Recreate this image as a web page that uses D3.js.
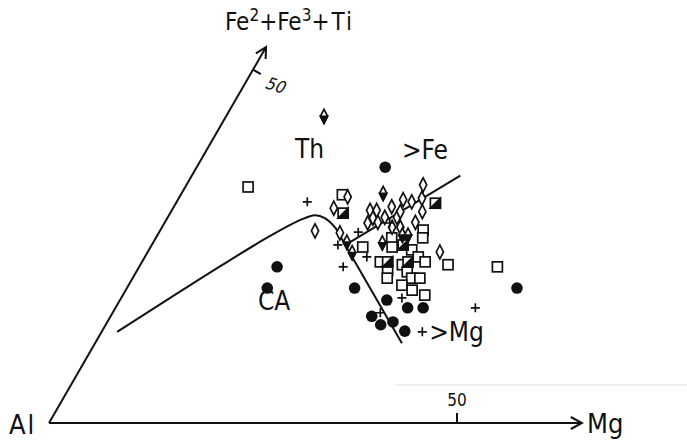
<!DOCTYPE html>
<html>
<head>
<meta charset="utf-8">
<script src="https://cdn.jsdelivr.net/npm/d3@7"></script>
<style>
  body { margin: 0; background: #fff; }
  svg text { font-family: "DejaVu Sans Condensed", "DejaVu Sans", sans-serif; fill: #111; }
</style>
</head>
<body>
<svg id="chart" width="687" height="441"></svg>
<script>
// ternary values: [Mg, Fe2+Fe3+Ti] in cation %
const circlePts = [[23.1,36.2],[16.9,22.1],[17.2,19.1],[27.9,19.1],[32.7,17.4],[35.8,16.3],[37.7,16.3],
  [32.0,15.1],[33.7,13.9],[35.0,14.3],[37.1,13.0],[47.8,19.1]];
const squarePts = [[7.7,33.4],[43.9,22.1],[37.7,22.4],[19.8,32.3],[32.2,27.3],[32.7,26.2],[28.9,26.2],
  [29.6,24.9],[26.0,24.9],[32.2,24.5],[33.5,23.5],[34.7,22.8],[29.2,22.8],[32.1,22.4],[30.7,21.6],
  [33.2,21.4],[31.2,20.5],[34.2,20.5],[35.2,20.5],[33.5,19.5],[35.1,18.8],[37.0,18.1]];
const halfSquarePts = [[21.2,29.7],[31.8,31.1],[30.8,25.2],[30.1,22.8],[32.6,22.8]];
const diamondPts = [[20.6,32.0],[19.7,30.4],[19.0,27.2],[22.2,26.9],[24.3,30.1],[25.1,30.1],[25.2,29.0],
  [24.9,28.3],[26.1,28.4],[26.6,29.1],[26.7,30.6],[28.1,29.1],[28.1,29.9],[27.6,31.6],[28.8,31.3],
  [29.0,33.7],[29.8,31.8],[30.8,29.9],[30.7,28.4],[28.2,27.7],[29.2,27.7],[35.8,24.2]];
const dotDiamondPts = [[12.0,43.4],[23.7,25.6],[25.1,24.1],[24.7,32.5],[30.0,26.6],[30.7,26.6],[28.1,25.5]];
const plusPts = [[16.0,31.3],[24.4,27.0],[27.6,28.3],[22.8,25.2],[25.0,22.1],[27.2,23.5],[34.4,17.7],
  [32.8,15.6],[44.1,16.3],[39.3,12.9]];

// field boundaries
const thCaLine = [[1.9,12.9],[6.0,17.7],[9.9,22.2],[13.9,26.5],[16.4,28.7],[17.9,29.4],[19.3,29.0],
  [21.3,27.6],[23.6,25.3],[37.6,11.3]];
const feMgLine = [[24.1,25.6],[32.9,35.0]];

const fieldLabels = [["Th",11.4,37.5],["CA",17.6,16.0],[">Fe",24.6,37.3],[">Mg",40.8,11.6]];

const mgAxisEnd = 65.3, feAxisEnd = 53.2, tickValue = 50;

const svg = d3.select("#chart");
const ox = 49, oy = 423;
const s = d3.scaleLinear().domain([0, 50]).range([0, 408]);
const sin60 = Math.sqrt(3) / 2;
const px = d => ox + s(d[0] + d[1] * 0.5);
const py = d => oy - s(d[1]) * sin60;

// scan artifact line
svg.append("line").attr("x1", 395).attr("x2", 687).attr("y1", 385).attr("y2", 385)
  .attr("stroke", "#ebebeb").attr("stroke-width", 1.5);

const axes = svg.append("g").attr("stroke", "#111").attr("stroke-width", 2).attr("fill", "none");

// Mg axis
let mgEnd = [mgAxisEnd, 0];
axes.append("line").attr("x1", ox).attr("y1", oy).attr("x2", px(mgEnd)).attr("y2", py(mgEnd));
axes.append("path").attr("d", `M${px(mgEnd) - 11},${py(mgEnd) - 6}L${px(mgEnd)},${py(mgEnd)}L${px(mgEnd) - 11},${py(mgEnd) + 6}`);
axes.append("line").attr("x1", px([tickValue, 0])).attr("x2", px([tickValue, 0]))
  .attr("y1", oy).attr("y2", oy - 10);

// Fe axis
let feEnd = [0, feAxisEnd];
axes.append("line").attr("x1", ox).attr("y1", oy).attr("x2", px(feEnd)).attr("y2", py(feEnd));
let ang = -60 * Math.PI / 180;
let headPts = [-28, 28].map(a => {
  let t = ang + Math.PI + a * Math.PI / 180;
  return [px(feEnd) + 12 * Math.cos(t), py(feEnd) + 12 * Math.sin(t)];
});
axes.append("path").attr("d", `M${headPts[0]}L${px(feEnd)},${py(feEnd)}L${headPts[1]}`);
let fe50 = [0, tickValue];
axes.append("line").attr("x1", px(fe50)).attr("y1", py(fe50))
  .attr("x2", px(fe50) + 9 * sin60).attr("y2", py(fe50) + 9 * 0.5);

// axis labels
svg.append("text").attr("x", 9).attr("y", 434).attr("font-size", 27).attr("letter-spacing", 2).text("Al");
svg.append("text").attr("x", 587).attr("y", 433).attr("font-size", 27).text("Mg");
svg.append("text").attr("x", px([tickValue, 0])).attr("y", 406).attr("text-anchor", "middle")
  .attr("font-size", 17).text("50");
svg.append("text").attr("transform", `translate(${px(fe50) + 11},${py(fe50) + 18}) rotate(18) skewX(-12)`)
  .attr("font-size", 17).text("50");
let feLab = svg.append("text").attr("x", 225).attr("y", 30).attr("font-size", 24);
feLab.append("tspan").text("Fe");
feLab.append("tspan").attr("font-size", 17).attr("dy", -9).text("2");
feLab.append("tspan").attr("dy", 9).text("+Fe");
feLab.append("tspan").attr("font-size", 17).attr("dy", -9).text("3");
feLab.append("tspan").attr("dy", 9).attr("letter-spacing", 2).text("+Ti");

// boundaries
const line = d3.line().x(px).y(py).curve(d3.curveCatmullRom.alpha(0.5));
svg.append("path").datum(thCaLine).attr("d", line)
  .attr("fill", "none").attr("stroke", "#111").attr("stroke-width", 2);
svg.append("path").datum(feMgLine).attr("d", d3.line().x(px).y(py))
  .attr("fill", "none").attr("stroke", "#111").attr("stroke-width", 2);

svg.selectAll("text.field").data(fieldLabels).join("text").attr("class", "field")
  .attr("x", d => px([d[1], d[2]])).attr("y", d => py([d[1], d[2]]))
  .attr("font-size", 26).text(d => d[0]);

// markers
const marks = svg.append("g").attr("stroke", "#111").attr("stroke-width", 1.7);

marks.selectAll("circle.c").data(circlePts).join("circle").attr("class", "c")
  .attr("cx", px).attr("cy", py).attr("r", 5.8).attr("fill", "#111").attr("stroke", "none");

marks.selectAll("rect.sq").data(squarePts).join("rect").attr("class", "sq")
  .attr("x", d => px(d) - 5).attr("y", d => py(d) - 5).attr("width", 10).attr("height", 10)
  .attr("fill", "#fff");

let hs = marks.selectAll("g.hs").data(halfSquarePts).join("g").attr("class", "hs")
  .attr("transform", d => `translate(${px(d)},${py(d)})`);
hs.append("rect").attr("x", -5).attr("y", -5).attr("width", 10).attr("height", 10).attr("fill", "#fff");
hs.append("path").attr("d", "M-5,5L5,-5L5,5Z").attr("fill", "#111");

const diamondPath = "M0,-7L3.6,0L0,7L-3.6,0Z";
marks.selectAll("path.dm").data(diamondPts).join("path").attr("class", "dm")
  .attr("transform", d => `translate(${px(d)},${py(d)})`).attr("d", diamondPath)
  .attr("fill", "#fff");

let dd = marks.selectAll("g.dd").data(dotDiamondPts).join("g").attr("class", "dd")
  .attr("transform", d => `translate(${px(d)},${py(d)})`);
dd.append("path").attr("d", diamondPath).attr("fill", "#fff");
dd.append("path").attr("d", "M-3.6,0L3.6,0L0,7Z").attr("fill", "#111");

marks.selectAll("path.pl").data(plusPts).join("path").attr("class", "pl")
  .attr("transform", d => `translate(${px(d)},${py(d)})`)
  .attr("d", "M-4.5,0H4.5M0,-4.5V4.5").attr("fill", "none");
</script>
</body>
</html>
